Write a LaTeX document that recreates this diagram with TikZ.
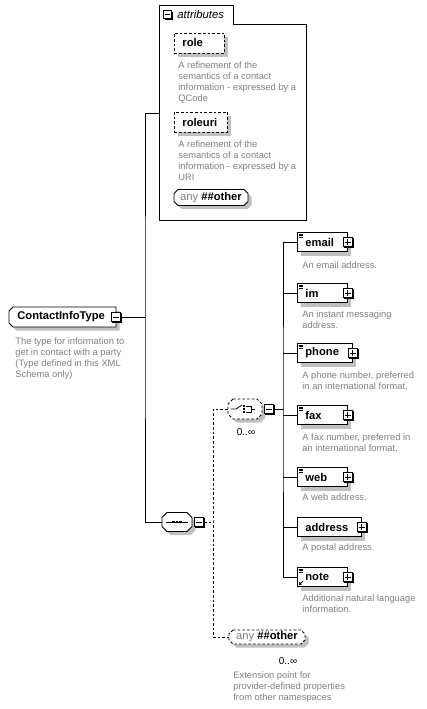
\documentclass[tikz,border=0pt]{standalone}
\usepackage{fontspec}
\setmainfont{Liberation Sans}
\usepackage{xcolor}
\usepackage{tikz}
\usetikzlibrary{positioning,shadows,arrows.meta}
\definecolor{descgray}{RGB}{128,128,128}
\definecolor{shadowgray}{RGB}{192,192,192}
\newcommand{\namefont}{\fontsize{8.4}{9}\selectfont\bfseries}
\newcommand{\descfont}{\fontsize{7}{8.25}\selectfont}
\newcommand{\anyother}{\textcolor{descgray}{any} \textbf{\#\#other}}
\newcommand{\octopath}[6]{(#1-#3/2+#5,#2-#4/2) -- (#1+#3/2-#6,#2-#4/2) -- (#1+#3/2,#2-#4/2+#6) -- (#1+#3/2,#2+#4/2-#6) -- (#1+#3/2-#6,#2+#4/2) -- (#1-#3/2+#5,#2+#4/2) -- (#1-#3/2,#2+#4/2-#5) -- (#1-#3/2,#2-#4/2+#5) -- cycle}
\newcommand{\octo}[7][]{%
  \fill[shadowgray,shift={(3.5,3.5)}] \octopath{#2}{#3}{#4}{#5}{#6}{#7};
  \draw[fill=white,#1] \octopath{#2}{#3}{#4}{#5}{#6}{#7};}

\begin{document}
\begin{tikzpicture}[x=0.75pt,y=-0.75pt,line width=0.6pt,
  boxshadow/.style={drop shadow={shadow xshift=3pt,shadow yshift=-3pt,fill=shadowgray,opacity=1}},
  elem/.style={draw,fill=white,boxshadow,anchor=west,minimum height=14.25pt,inner xsep=6pt,inner ysep=0pt,align=left,font=\namefont},
  dashbox/.style={dash pattern=on 2pt off 1.5pt},
  attr/.style={elem,dashbox,minimum height=15pt},
  octotext/.style={inner sep=0pt,font=\fontsize{8.4}{9}\selectfont},
  desc/.style={anchor=north west,inner sep=0pt,align=left,text=descgray,font=\descfont},
  card/.style={inner sep=0pt,font=\fontsize{7.5}{9}\selectfont},
  pmbox/.style={draw,fill=white,minimum size=7pt,inner sep=0pt,drop shadow={shadow xshift=0.8pt,shadow yshift=-0.8pt,fill=black,opacity=1}},
  minusbox/.style={pmbox,path picture={\draw ([xshift=1.4pt]path picture bounding box.west) -- ([xshift=-1.4pt]path picture bounding box.east);}},
  plusbox/.style={pmbox,path picture={\draw ([xshift=1.4pt]path picture bounding box.west) -- ([xshift=-1.4pt]path picture bounding box.east) ([yshift=-1.4pt]path picture bounding box.north) -- ([yshift=1.4pt]path picture bounding box.south);}}]
  \useasboundingbox (0,0) rectangle (427,709);

  % attributes group
  \draw[fill=white] (159,5) -- (233,5) -- (233,24) -- (306,24) -- (306,220) -- (159,220) -- cycle;
  \node[minusbox,minimum size=6pt] (attrmin) at (167.5,14.5) {};
  \node[anchor=west,inner sep=0pt,font=\fontsize{8.5}{9}\selectfont\itshape] (attrlbl) at (177,14.5) {attributes};
  \node[attr,text width=25.5pt] (role) at (174,43) {role};
  \node[desc] (roled) at (178,61) {A refinement of the\\semantics of a contact\\information - expressed by a\\QCode};
  \node[attr,text width=27.75pt] (roleuri) at (174,122) {roleuri};
  \node[desc] (roleurid) at (178,140) {A refinement of the\\semantics of a contact\\information - expressed by a\\URI};
  \octo{211}{197.5}{74}{16}{4}{4}
  \node[octotext,minimum width=55.5pt,minimum height=12pt] (attrany) at (211,197.5) {\anyother};

  % complex type
  \octo{62.5}{317}{107}{20}{4}{0}
  \node[anchor=west,inner sep=0pt,font=\namefont] (ctype) at (17,317) {ContactInfoType};
  \node[minusbox] (ctmin) at (116,317) {};
  \node[desc] (ctyped) at (15,337) {The type for information to\\get in contact with a party\\(Type defined in this XML\\Schema only)};

  % sequence and choice
  \octo{177}{522}{30}{19}{5}{5}
  \node[inner sep=0pt,minimum width=22.5pt,minimum height=14.25pt] (seq) at (177,522) {};
  \node[minusbox,right=1.2pt of seq] (seqmin) {};
  \begin{scope}[shift={(seq.center)}]
    \draw (-11,0) -- (11,0);
    \foreach \d in {-3.5,0,3.5} \fill (\d-1.2,-1.2) rectangle (\d+1.2,1.2);
  \end{scope}
  \octo[dashbox]{245}{409}{34}{20}{5}{5}
  \node[inner sep=0pt,minimum width=25.5pt,minimum height=15pt] (choice) at (245,409) {};
  \node[minusbox,right=1.2pt of choice] (chmin) {};
  \begin{scope}[shift={(choice.center)}]
    \draw (-14,0) -- (-9,0) -- (-3,-4);
    \foreach \d in {-2.8,0,2.8} \fill (-1.6,\d-1) rectangle (0.4,\d+1);
    \draw (1,-3) -- (6,-3) -- (6,3) -- (1,3) (6,0) -- (10,0);
  \end{scope}
  \node[card] (chcard) at (246,432) {0..∞};

  % elements
  \node[elem,text width=25.5pt] (email) at (297,242) {email};
  \node[plusbox] (emailp) at (email.east) {};
  \node[desc] (emaild) at (302,261) {An email address.};
  \node[elem,text width=25.5pt] (im) at (297,293) {im};
  \node[plusbox] (imp) at (im.east) {};
  \node[desc] (imd) at (302,310) {An instant messaging\\address.};
  \node[elem,text width=29.25pt] (phone) at (297,353) {phone};
  \node[plusbox] (phonep) at (phone.east) {};
  \node[desc] (phoned) at (302,371) {A phone number, preferred\\in an international format.};
  \node[elem,text width=25.5pt] (fax) at (297,415) {fax};
  \node[plusbox] (faxp) at (fax.east) {};
  \node[desc] (faxd) at (302,433) {A fax number, preferred in\\an international format.};
  \node[elem,text width=25.5pt] (web) at (297,477) {web};
  \node[plusbox] (webp) at (web.east) {};
  \node[desc] (webd) at (302,493) {A web address.};
  \node[elem,text width=36pt] (address) at (297,527) {address};
  \node[plusbox] (addressp) at (address.east) {};
  \node[desc] (addressd) at (302,543) {A postal address.};
  \node[elem,text width=25.5pt] (note) at (297,577) {note};
  \node[plusbox] (notep) at (note.east) {};
  \node[desc] (noted) at (302,594) {Additional natural language\\information.};
  \foreach \e in {email,im,phone,fax,web,note}
    \foreach \k in {0,1,2}
      \draw[line width=0.4pt] ([xshift=1.5pt,yshift={-1.3pt-\k*1.1pt}]\e.north west) -- ++(3.2pt,0);
  \draw[line width=0.7pt,-{Triangle[length=2pt,width=2.4pt]}] ([xshift=4.5pt,yshift=4.5pt]note.south west) -- ([xshift=1.4pt,yshift=1.4pt]note.south west);

  % wildcard
  \octo[dashbox]{267}{637}{76}{14}{4}{4}
  \node[octotext,minimum width=57pt,minimum height=10.5pt] (anyo) at (267,637) {\anyother};
  \node[card] (anycard) at (288,661) {0..∞};
  \node[desc] (anyd) at (233,671) {Extension point for\\provider-defined properties\\from other namespaces};

  % connectors
  \coordinate (ctj) at (145,317);
  \coordinate (attrin) at (159,113);
  \coordinate (seqj) at (213,522);
  \coordinate (busj) at (283,409);
  \draw (ctmin) -- (ctj);
  \draw (attrin) -| (ctj) |- (seq);
  \draw[dashbox] (seqmin) -- (seqj);
  \draw[dashbox] (choice) -| (seqj) |- (anyo);
  \draw (chmin) -- (busj);
  \draw (email) -| (busj) |- (note);
  \foreach \e in {im,phone,fax,web,address}
    \draw (\e) -- (\e -| busj);
\end{tikzpicture}
\end{document}
